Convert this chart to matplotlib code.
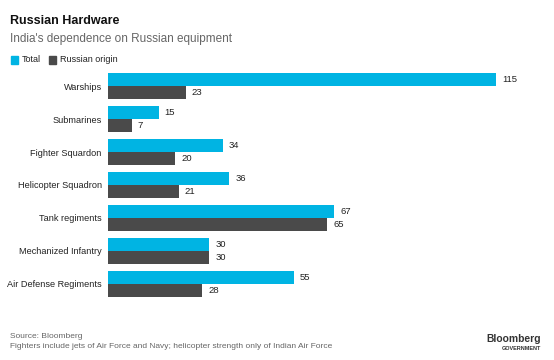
import matplotlib.pyplot as plt
from matplotlib.patches import Rectangle

plt.rcParams['font.family'] = ['Liberation Sans', 'DejaVu Sans']

categories = ['Warships', 'Submarines', 'Fighter Squardon', 'Helicopter Squadron',
              'Tank regiments', 'Mechanized Infantry', 'Air Defense Regiments']
total = [115, 15, 34, 36, 67, 30, 55]
russian = [23, 7, 20, 21, 65, 30, 28]

c_total = '#00b4e3'
c_rus = '#4a4a4a'

fig = plt.figure(figsize=(5.54, 3.60), dpi=100)
W, H = 554, 360

# axes placed in pixel terms
left, right, top, bottom = 108, 540, 70, 300
ax = fig.add_axes([left / W, 1 - bottom / H, (right - left) / W, (bottom - top) / H])

h = 0.39
ys = list(range(len(categories)))
ax.barh([y - h / 2 for y in ys], total, height=h, color=c_total)
ax.barh([y + h / 2 for y in ys], russian, height=h, color=c_rus)

for y, t, r in zip(ys, total, russian):
    ax.text(t + 1.8, y - h / 2, str(t), va='center', ha='left', fontsize=6.8, color='#222222')
    ax.text(r + 1.8, y + h / 2, str(r), va='center', ha='left', fontsize=6.8, color='#222222')

ax.set_xlim(0, (right - left) / 3.374)
ax.set_ylim(6.485, -0.485)
ax.set_yticks(ys)
ax.set_yticklabels(categories, fontsize=6.6, color='#222222')
ax.tick_params(axis='y', length=0, pad=4.5)
ax.set_xticks([])
for s in ax.spines.values():
    s.set_visible(False)

# titles
fig.text(10 / W, 1 - 21 / H, 'Russian Hardware', fontsize=9, fontweight='bold',
         color='#111111', va='center')
fig.text(10 / W, 1 - 39 / H, "India's dependence on Russian equipment", fontsize=8.5,
         color='#666666', va='center')

# legend
fig.patches.append(Rectangle((11 / W, 1 - 63.5 / H), 7 / W, 7 / H, transform=fig.transFigure,
                             color=c_total))
fig.text(21.5 / W, 1 - 60 / H, 'Total', fontsize=6.5, color='#222222', va='center')
fig.patches.append(Rectangle((49 / W, 1 - 63.5 / H), 7 / W, 7 / H, transform=fig.transFigure,
                             color=c_rus))
fig.text(59.5 / W, 1 - 60 / H, 'Russian origin', fontsize=6.5, color='#222222', va='center')

# footer
fig.text(10 / W, 1 - 336 / H, 'Source: Bloomberg', fontsize=6.05, color='#666666', va='center')
fig.text(10 / W, 1 - 347 / H,
         'Fighters include jets of Air Force and Navy; helicopter strength only of Indian Air Force',
         fontsize=6.05, color='#666666', va='center')
fig.text(541 / W, 1 - 339 / H, 'Bloomberg', fontsize=7.4, fontweight='bold',
         color='#333333', va='center', ha='right')
fig.text(541 / W, 1 - 349 / H, 'GOVERNMENT', fontsize=4, fontweight='bold',
         color='#333333', va='center', ha='right')

fig.savefig('out.png', dpi=100, facecolor='white')
